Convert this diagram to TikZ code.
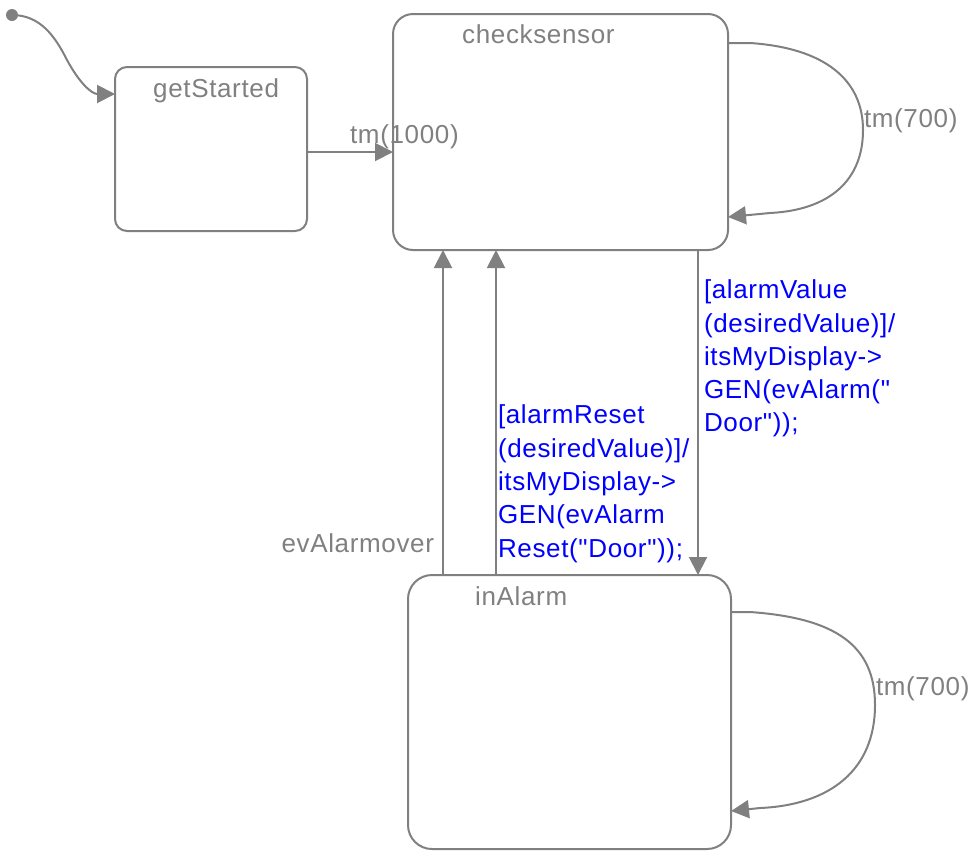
\documentclass[tikz,border=0pt]{standalone}
\usepackage{fontspec}
\setmainfont{Liberation Sans}[Ligatures=TeXOff, LetterSpace=2.5]
\usetikzlibrary{arrows.meta}
\definecolor{linea}{RGB}{128,128,128}
\definecolor{azul}{RGB}{0,0,255}
\tikzset{
	estado/.style={draw=linea, line width=2pt, rounded corners=#1, outer sep=0pt, inner sep=0pt},
	estado/.default=20pt,
	trans/.style={draw=linea, line width=2pt, -{Triangle[length=18pt,width=18pt]}},
	texto/.style={text=linea, inner sep=0pt, font=\fontsize{26}{33.3}\selectfont},
	guarda/.style={text=azul, inner sep=0pt, align=left, font=\fontsize{26}{33.3}\selectfont}
}
\begin{document}
\begin{tikzpicture}[x=1pt,y=-1pt]
	\useasboundingbox (0,0) rectangle (968,852);
	% estados
	\node[estado=12pt, minimum width=192pt, minimum height=164pt] (getStarted) at (211,149) {};
	\node[estado=20pt, minimum width=335pt, minimum height=236pt] (checksensor) at (560.5,132) {};
	\node[estado=24pt, minimum width=323pt, minimum height=274pt] (inAlarm) at (569.5,712) {};
	\node[texto, anchor=base west] (nGetStarted) at (153,97) {getStarted};
	\node[texto, anchor=base west] (nChecksensor) at (462,43) {checksensor};
	\node[texto, anchor=base west] (nInAlarm) at (475,605) {inAlarm};
	% estado inicial
	\coordinate (ini) at (12,15);
	\fill[linea] (ini) circle[radius=6pt];
	\draw[trans] (ini) .. controls (40,15) and (55,36) .. (67,60) .. controls (80,84) and (92,94) .. ([yshift=-27pt]getStarted.north west);
	% tm(1000)
	\coordinate (t1) at ([yshift=-3pt]getStarted.east);
	\draw[trans] (t1) -- (t1 -| checksensor.west) node[texto, pos=0.49, anchor=base west, yshift=9pt] {tm(1000)};
	% lazos tm(700)
	\draw[trans] ([yshift=-29pt]checksensor.north east) -- ++(22,0) .. controls (825,48) and (863,80) .. (863,130) node[texto, anchor=base west, yshift=3pt] {tm(700)} .. controls (863,180) and (830,210) .. (770,213) -- ([yshift=33pt]checksensor.south east);
	\draw[trans] ([yshift=-37pt]inAlarm.north east) -- ++(19,0) .. controls (835,618) and (875,645) .. (875,705) node[texto, anchor=base west, yshift=10pt] {tm(700)} .. controls (875,770) and (830,805) .. (760,808) -- ([yshift=38pt]inAlarm.south east);
	% transiciones verticales
	\coordinate (xA) at (443,0);
	\coordinate (xR) at (496,0);
	\coordinate (xV) at (698,0);
	\draw[trans] (xA |- inAlarm.north) -- (xA |- checksensor.south) node[texto, pos=0.068, anchor=base east, xshift=-8pt] {evAlarmover};
	\draw[trans] (xR |- inAlarm.north) -- (xR |- checksensor.south) node[guarda, pos=0.526, anchor=north west, xshift=1pt] {[alarmReset\\(desiredValue)]/\\itsMyDisplay->\\GEN(evAlarm\\Reset("Door"));};
	\draw[trans] (xV |- checksensor.south) -- (xV |- inAlarm.north) node[guarda, pos=0.089, anchor=north west, xshift=5pt] {[alarmValue\\(desiredValue)]/\\itsMyDisplay->\\GEN(evAlarm("\\Door"));};
\end{tikzpicture}
\end{document}
